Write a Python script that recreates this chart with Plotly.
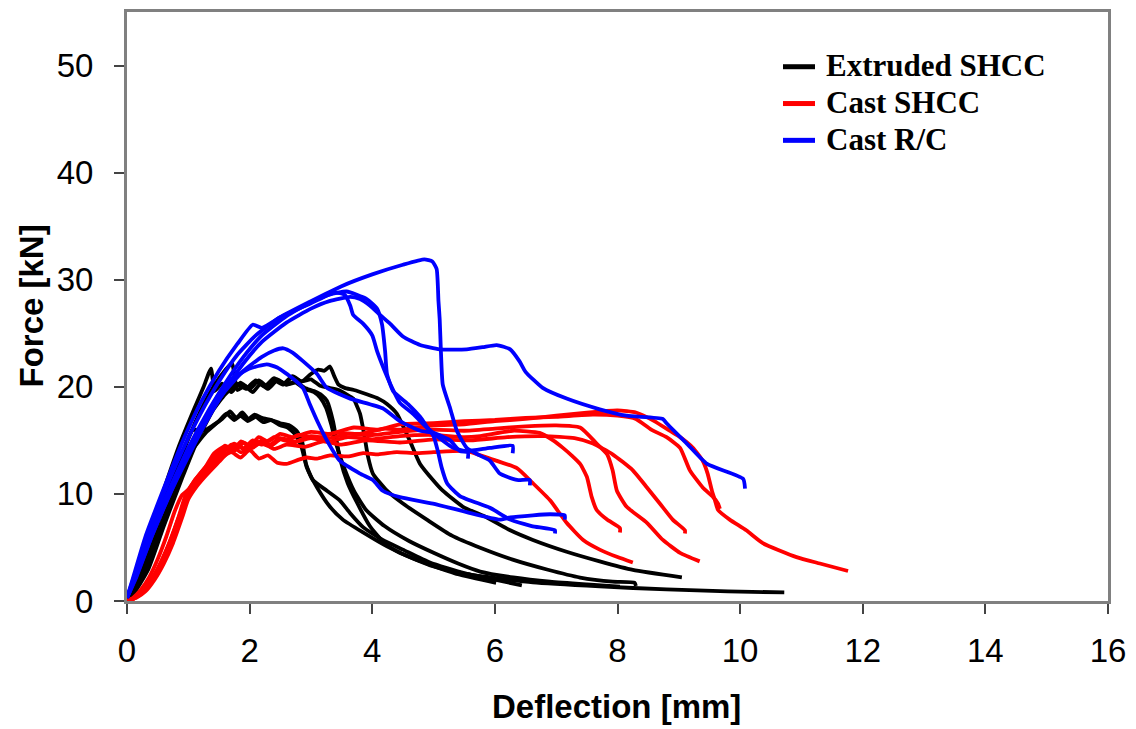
import plotly.graph_objects as go

# ---------------- data: force–deflection curves ----------------
# Extruded SHCC specimens (deflection mm, force kN)
ext1_x = [0, 0.1, 0.25, 0.45, 0.7, 0.95, 1.06, 1.15, 1.25, 1.4, 1.55, 1.68, 1.78, 1.88, 1.98, 2.08, 2.2, 2.35, 2.5, 2.65, 2.78, 2.86, 2.92, 3.03, 3.26, 3.47, 3.64, 3.85, 4.17, 4.5, 4.94, 5.5, 6.0, 6.44]
ext1_y = [0.3, 1.2, 3.5, 7.0, 11.0, 14.5, 15.9, 16.0, 15.9, 16.4, 17.0, 17.7, 17.1, 17.6, 17.0, 17.4, 17.1, 16.9, 16.6, 16.4, 15.8, 14.8, 12.8, 11.3, 10.3, 9.4, 8.2, 6.9, 5.7, 4.8, 3.6, 2.6, 2.0, 1.45]

ext2_x = [0, 0.12, 0.3, 0.5, 0.75, 1.0, 1.3, 1.5, 1.62, 1.75, 1.85, 1.97, 2.1, 2.22, 2.35, 2.5, 2.62, 2.75, 2.85, 2.93, 3.1, 3.31, 3.52, 3.85, 4.24, 4.61, 4.94, 5.4, 6.02]
ext2_y = [0.3, 1.0, 3.0, 6.2, 10.2, 13.6, 15.8, 16.8, 17.5, 16.9, 17.3, 16.8, 17.2, 16.7, 16.9, 16.4, 16.2, 15.5, 14.3, 12.5, 10.6, 8.8, 7.6, 6.4, 5.1, 4.1, 3.4, 2.5, 1.7]

ext3_x = [0, 0.1, 0.3, 0.55, 0.85, 1.1, 1.25, 1.37, 1.43, 1.55, 1.7, 1.85, 2.0, 2.15, 2.3, 2.45, 2.6, 2.75, 2.9, 3.05, 3.18, 3.26, 3.36, 3.47, 3.6, 3.75, 3.96, 4.2, 4.45, 4.99, 5.54, 6.62, 7.71, 8.8, 9.8, 10.72]
ext3_y = [0.3, 1.5, 5.0, 9.5, 14.5, 18.0, 20.0, 21.7, 19.6, 20.3, 19.5, 20.4, 19.8, 20.6, 20.0, 20.7, 20.2, 20.5, 19.9, 19.6, 19.2, 18.7, 16.8, 13.4, 11.0, 9.2, 7.0, 5.4, 4.5, 3.25, 2.5, 1.73, 1.36, 1.08, 0.9, 0.8]

ext4_x = [0, 0.12, 0.3, 0.55, 0.85, 1.1, 1.3, 1.5, 1.71, 1.8, 1.92, 2.05, 2.18, 2.3, 2.45, 2.6, 2.75, 2.9, 3.05, 3.15, 3.25, 3.33, 3.42, 3.55, 3.7, 3.9, 4.2, 4.6, 5.0, 5.4, 5.76, 6.3, 6.9, 7.5, 8.04]
ext4_y = [0.3, 1.0, 3.5, 8.0, 13.0, 16.5, 18.9, 20.8, 22.2, 19.7, 20.1, 19.5, 20.3, 19.8, 20.6, 20.2, 20.4, 19.8, 19.5, 19.0, 18.0, 16.5, 14.5, 12.3, 10.3, 8.5, 7.0, 5.6, 4.5, 3.5, 2.75, 2.2, 1.8, 1.55, 1.35]

ext5_x = [0, 0.12, 0.35, 0.6, 0.9, 1.15, 1.4, 1.6, 1.78, 1.95, 2.1, 2.25, 2.4, 2.55, 2.7, 2.85, 3.0, 3.15, 3.3, 3.45, 3.58, 3.69, 3.8, 3.87, 3.93, 4.01, 4.24, 4.5, 4.89, 5.3, 5.76, 6.29, 6.85, 7.39, 7.92, 8.28, 8.3]
ext5_y = [0.3, 0.9, 3.5, 7.5, 12.0, 15.5, 18.2, 19.6, 20.3, 19.9, 20.6, 20.1, 20.8, 20.3, 21.0, 20.5, 20.7, 20.1, 19.9, 19.7, 19.3, 18.9, 17.5, 15.5, 13.5, 11.9, 10.3, 9.1, 7.6, 6.1, 4.97, 3.86, 2.94, 2.19, 1.8, 1.7, 1.4]

ext6_x = [0, 0.12, 0.35, 0.6, 0.9, 1.15, 1.4, 1.6, 1.8, 1.95, 2.1, 2.25, 2.4, 2.55, 2.7, 2.85, 3.0, 3.12, 3.22, 3.31, 3.38, 3.45, 3.55, 3.7, 3.91, 4.1, 4.24, 4.4, 4.61, 4.78, 4.99, 5.15, 5.48, 5.87, 6.25, 6.62, 7.17, 7.71, 8.25, 9.05]
ext6_y = [0.3, 0.8, 3.0, 7.0, 11.5, 15.0, 17.8, 19.3, 20.2, 19.8, 20.5, 20.0, 20.6, 20.2, 20.9, 20.5, 21.2, 21.6, 21.5, 21.9, 21.0, 20.2, 19.9, 19.7, 19.3, 18.9, 18.4, 17.5, 15.0, 12.8, 11.3, 10.3, 8.8, 7.8, 6.6, 5.7, 4.6, 3.7, 2.9, 2.2]

# Cast SHCC specimens
cast1_x = [0, 0.1, 0.22, 0.35, 0.5, 0.65, 0.8, 0.92, 1.0, 1.15, 1.3, 1.5, 1.7, 1.85, 2.0, 2.15, 2.3, 2.45, 2.6, 2.8, 2.93, 3.1, 3.31, 3.6, 3.85, 4.1, 4.4, 4.7, 5.0, 5.54, 5.92, 6.36, 6.62, 6.9, 7.17, 7.44, 7.71, 8.0, 8.25]
cast1_y = [0.0, 0.2, 0.7, 1.6, 3.0, 4.8, 7.0, 9.0, 10.0, 11.0, 12.0, 13.2, 13.9, 13.4, 14.1, 13.3, 13.6, 12.9, 12.8, 13.2, 13.4, 13.3, 13.6, 13.5, 13.8, 13.7, 13.9, 13.8, 13.9, 14.0, 13.3, 12.4, 11.0, 9.4, 7.3, 5.7, 4.8, 4.1, 3.6]

cast2_x = [0, 0.12, 0.25, 0.4, 0.55, 0.7, 0.85, 0.95, 1.1, 1.25, 1.45, 1.6, 1.75, 1.9, 2.05, 2.2, 2.35, 2.5, 2.7, 3.0, 3.3, 3.6, 4.0, 4.45, 5.0, 5.5, 5.76, 6.29, 6.73, 6.95, 7.11, 7.25, 7.39, 7.5, 7.58, 7.66, 7.83, 8.04, 8.04]
cast2_y = [0.0, 0.3, 0.9, 2.0, 3.6, 5.6, 8.0, 9.8, 11.2, 12.3, 13.6, 14.5, 14.0, 14.8, 14.3, 15.0, 14.5, 15.1, 14.8, 15.2, 14.9, 15.3, 15.1, 15.4, 15.5, 15.3, 15.4, 15.9, 15.7, 15.0, 14.3, 13.6, 12.8, 11.6, 9.7, 8.5, 7.6, 6.8, 6.4]

cast3_x = [0, 0.15, 0.3, 0.45, 0.6, 0.75, 0.9, 1.0, 1.15, 1.3, 1.5, 1.65, 1.8, 1.95, 2.1, 2.3, 2.5, 2.75, 3.0, 3.3, 3.6, 4.0, 4.45, 5.0, 5.5, 6.0, 6.5, 7.0, 7.39, 7.66, 7.83, 7.92, 7.99, 8.15, 8.48, 8.74, 9.02, 9.34]
cast3_y = [0.0, 0.3, 0.9, 2.0, 3.5, 5.4, 7.8, 9.5, 10.8, 11.8, 13.0, 13.9, 14.6, 14.1, 14.9, 14.5, 15.2, 14.9, 15.4, 15.2, 15.6, 15.5, 15.8, 16.0, 15.9, 16.1, 16.3, 16.4, 16.2, 14.7, 13.7, 12.2, 10.3, 8.8, 7.3, 5.7, 4.5, 3.7]

cast4_x = [0, 0.1, 0.25, 0.4, 0.55, 0.7, 0.85, 1.0, 1.1, 1.25, 1.4, 1.55, 1.7, 1.85, 2.0, 2.2, 2.4, 2.6, 2.9, 3.2, 3.5, 3.9, 4.45, 5.0, 5.6, 6.2, 6.8, 7.3, 7.6, 7.92, 8.25, 8.48, 8.69, 8.9, 9.1, 9.1]
cast4_y = [0.0, 0.2, 0.8, 1.9, 3.5, 5.5, 7.9, 10.0, 11.0, 12.2, 13.0, 13.7, 14.6, 13.9, 14.2, 14.8, 14.2, 14.6, 14.4, 14.9, 14.6, 15.0, 14.8, 15.1, 15.0, 15.3, 15.4, 15.2, 14.7, 13.7, 12.2, 10.6, 9.1, 7.6, 6.6, 6.3]

cast5_x = [0, 0.12, 0.28, 0.42, 0.58, 0.72, 0.88, 1.0, 1.12, 1.3, 1.45, 1.6, 1.75, 1.9, 2.05, 2.2, 2.4, 2.6, 2.8, 3.1, 3.4, 3.8, 4.2, 4.45, 5.0, 5.5, 6.0, 6.5, 7.0, 7.5, 8.0, 8.3, 8.6, 8.85, 9.02, 9.23, 9.39, 9.47, 9.54, 9.59, 9.64, 9.83, 10.1, 10.37, 10.92, 11.3, 11.76]
cast5_y = [0.0, 0.25, 0.9, 2.0, 3.6, 5.5, 8.0, 9.8, 11.0, 12.3, 13.5, 14.1, 14.7, 14.2, 15.0, 14.6, 15.3, 15.0, 15.5, 15.2, 15.7, 15.6, 16.1, 16.0, 16.4, 16.5, 16.8, 17.0, 17.3, 17.6, 17.8, 17.6, 16.8, 15.9, 15.3, 14.3, 13.1, 11.9, 10.3, 9.4, 8.5, 7.6, 6.6, 5.4, 4.1, 3.5, 2.8]

cast6_x = [0, 0.1, 0.22, 0.36, 0.5, 0.64, 0.78, 0.9, 1.0, 1.12, 1.28, 1.42, 1.58, 1.72, 1.86, 2.0, 2.15, 2.3, 2.5, 2.7, 3.0, 3.3, 3.7, 4.1, 4.45, 5.0, 5.5, 6.0, 6.5, 7.0, 7.6, 8.0, 8.3, 8.55, 8.8, 9.02, 9.18, 9.39, 9.56, 9.64, 9.67]
cast6_y = [0.0, 0.3, 1.0, 2.2, 3.9, 6.0, 8.4, 9.9, 10.4, 11.4, 12.5, 13.8, 14.4, 14.0, 14.9, 14.4, 15.3, 14.9, 15.6, 15.3, 15.8, 15.6, 16.2, 16.0, 16.5, 16.6, 16.8, 16.9, 17.1, 17.2, 17.4, 17.3, 17.0, 16.0, 15.3, 14.3, 12.2, 10.6, 9.7, 9.1, 8.6]

# Cast R/C specimens
rc1_x = [0, 0.1, 0.3, 0.6, 0.9, 1.2, 1.5, 1.8, 2.1, 2.5, 3.0, 3.5, 4.0, 4.5, 4.85, 4.98, 5.05, 5.08, 5.1, 5.12, 5.15, 5.27, 5.38, 5.54, 5.75, 5.92, 6.08, 6.36, 6.57, 6.57]
rc1_y = [0.3, 2.0, 5.5, 10.0, 14.0, 17.5, 20.5, 23.0, 24.8, 26.5, 28.0, 29.4, 30.5, 31.4, 31.9, 31.7, 31.0, 28.0, 26.3, 23.3, 20.2, 18.0, 15.9, 14.3, 13.6, 13.1, 11.9, 11.3, 11.3, 10.8]

rc2_x = [0, 0.15, 0.4, 0.7, 1.0, 1.3, 1.6, 1.9, 2.2, 2.6, 3.0, 3.3, 3.64, 3.8, 3.96, 4.13, 4.29, 4.5, 4.78, 5.1, 5.54, 5.8, 6.03, 6.25, 6.4, 6.5, 6.78, 7.17, 7.71, 8.15, 8.74, 8.8, 9.13, 9.46, 10.05, 10.08]
rc2_y = [0.3, 2.3, 6.0, 10.0, 13.5, 16.8, 19.7, 22.2, 24.2, 26.0, 27.3, 28.0, 28.4, 28.2, 27.6, 26.7, 25.9, 24.7, 23.9, 23.5, 23.5, 23.7, 23.9, 23.5, 22.4, 21.4, 19.9, 18.9, 17.9, 17.3, 17.0, 16.6, 14.7, 12.8, 11.4, 10.5]

rc3_x = [0, 0.1, 0.3, 0.6, 0.9, 1.2, 1.5, 1.8, 2.05, 2.2, 2.5, 3.0, 3.3, 3.58, 3.91, 4.08, 4.16, 4.21, 4.24, 4.34, 4.6, 4.78, 4.9, 5.0, 5.07, 5.13, 5.22, 5.43, 5.92, 6.25, 6.6, 6.98, 6.98]
rc3_y = [0.3, 2.2, 6.0, 10.5, 14.8, 18.5, 21.5, 24.0, 25.8, 25.5, 26.5, 27.8, 28.6, 28.9, 28.2, 27.3, 25.8, 23.3, 21.2, 19.6, 18.3, 17.2, 16.2, 15.4, 14.0, 12.5, 11.0, 9.8, 8.7, 7.6, 7.0, 6.6, 6.3]

rc4_x = [0, 0.15, 0.4, 0.7, 1.0, 1.3, 1.6, 1.9, 2.2, 2.6, 3.0, 3.4, 3.55, 3.64, 3.69, 3.85, 4.0, 4.08, 4.18, 4.3, 4.45, 4.66, 4.89, 5.1, 5.32, 5.54, 5.92, 6.29, 6.29]
rc4_y = [0.3, 2.5, 6.5, 10.5, 14.0, 17.3, 20.3, 22.8, 24.8, 26.6, 27.9, 28.8, 28.6, 27.6, 26.7, 25.9, 24.8, 23.3, 21.8, 20.2, 18.5, 17.5, 16.2, 15.2, 14.3, 14.0, 14.3, 14.5, 13.8]

rc5_x = [0, 0.15, 0.4, 0.7, 1.0, 1.3, 1.55, 1.73, 2.0, 2.28, 2.45, 2.7, 2.87, 2.98, 3.12, 3.26, 3.47, 3.8, 4.01, 4.17, 4.45, 4.99, 5.54, 6.08, 6.25, 6.62, 6.9, 7.14, 7.14]
rc5_y = [0.3, 2.5, 6.5, 10.5, 14.3, 17.5, 19.8, 20.8, 21.7, 22.1, 21.8, 20.8, 19.9, 18.4, 16.6, 15.0, 13.1, 11.9, 11.3, 10.3, 9.7, 9.1, 8.3, 7.6, 7.8, 8.0, 8.1, 8.0, 7.6]

rc6_x = [0, 0.15, 0.4, 0.7, 1.0, 1.3, 1.6, 1.9, 2.2, 2.4, 2.55, 2.7, 2.87, 3.1, 3.26, 3.64, 4.17, 4.45, 4.78, 5.0, 5.27, 5.43, 5.56, 5.56]
rc6_y = [0.3, 2.2, 6.0, 10.0, 13.8, 17.0, 19.6, 21.5, 22.8, 23.4, 23.6, 23.2, 22.4, 21.2, 19.9, 18.9, 18.0, 16.8, 15.9, 15.7, 15.0, 14.0, 13.9, 13.3]

series_names = ["Extruded SHCC", "Cast SHCC", "Cast R/C"]
series_colors = ["#000000", "#FF0000", "#0000FF"]
series_curves = [
    [(ext1_x, ext1_y), (ext2_x, ext2_y), (ext3_x, ext3_y),
     (ext4_x, ext4_y), (ext5_x, ext5_y), (ext6_x, ext6_y)],
    [(cast1_x, cast1_y), (cast2_x, cast2_y), (cast3_x, cast3_y),
     (cast4_x, cast4_y), (cast5_x, cast5_y), (cast6_x, cast6_y)],
    [(rc1_x, rc1_y), (rc2_x, rc2_y), (rc3_x, rc3_y),
     (rc4_x, rc4_y), (rc5_x, rc5_y), (rc6_x, rc6_y)],
]

x_ticks = [0, 2, 4, 6, 8, 10, 12, 14, 16]
y_ticks = [0, 10, 20, 30, 40, 50]

# ---------------- figure ----------------
W, H = 1136, 729
ML, MR, MT, MB = 127, 28, 9, 128
PW, PH = W - ML - MR, H - MT - MB


def px_to_paper(px, py):
    return (px - ML) / PW, (H - MB - py) / PH


fig = go.Figure()
for name, color, curves in zip(series_names, series_colors, series_curves):
    for cx, cy in curves:
        fig.add_trace(go.Scatter(
            x=cx, y=cy, mode="lines", name=name, legendgroup=name,
            showlegend=False,
            line=dict(color=color, width=3.8, shape="spline", smoothing=0.5),
            hoverinfo="skip",
        ))

axis_common = dict(
    showgrid=False, zeroline=False,
    showline=True, linecolor="#808080", linewidth=3, mirror=True,
    ticks="outside", ticklen=10, tickwidth=1.5, tickcolor="#444444",
    tickfont=dict(family="Liberation Sans, Arial, sans-serif", size=33, color="#000000"),
)
fig.update_xaxes(range=[0, 16], tickvals=x_ticks, ticklabelstandoff=8, **axis_common)
fig.update_yaxes(range=[0, 55], tickvals=y_ticks, ticklabelstandoff=14, **axis_common)

# axis titles
tx, ty = px_to_paper(616, 707)
fig.add_annotation(x=tx, y=ty, xref="paper", yref="paper", showarrow=False,
                   text="<b>Deflection [mm]</b>", xanchor="center", yanchor="middle",
                   font=dict(family="Liberation Sans, Arial, sans-serif", size=33, color="#000000"))
tx, ty = px_to_paper(31, 305)
fig.add_annotation(x=tx, y=ty, xref="paper", yref="paper", showarrow=False,
                   text="<b>Force [kN]</b>", textangle=-90, xanchor="center", yanchor="middle",
                   font=dict(family="Liberation Sans, Arial, sans-serif", size=33, color="#000000"))

# legend block
row_y = [63, 100, 137]
for name, color, ry in zip(series_names, series_colors, row_y):
    x0, y0 = px_to_paper(783, ry + 1)
    x1, _ = px_to_paper(815, ry + 1)
    fig.add_shape(type="line", xref="paper", yref="paper",
                  x0=x0, x1=x1, y0=y0, y1=y0, line=dict(color=color, width=5))
    lx, ly = px_to_paper(824, ry)
    fig.add_annotation(x=lx, y=ly, xref="paper", yref="paper", showarrow=False,
                       text=f"<b>{name}</b>", xanchor="left", yanchor="middle",
                       font=dict(family="Liberation Serif, Times New Roman, serif", size=31, color="#000000"))

fig.update_layout(
    width=W, height=H,
    margin=dict(l=ML, r=MR, t=MT, b=MB),
    paper_bgcolor="#FFFFFF", plot_bgcolor="#FFFFFF",
    showlegend=False,
)

fig.write_html("out.html")
